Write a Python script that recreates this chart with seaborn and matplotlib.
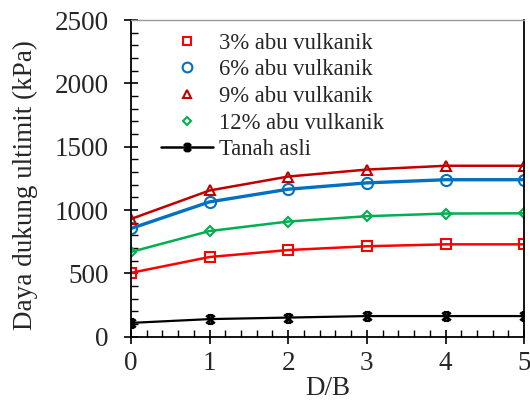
import matplotlib
matplotlib.use("Agg")
import matplotlib.pyplot as plt
import seaborn as sns
import pandas as pd
from matplotlib.lines import Line2D
from matplotlib.path import Path
from matplotlib.ticker import MultipleLocator

sns.set_style("ticks")
plt.rcParams['font.family'] = ['Liberation Serif', 'DejaVu Serif']

db = [0, 1, 2, 3, 4, 5]
s3 = [505, 630, 685, 715, 730, 730]
s6 = [855, 1065, 1165, 1215, 1240, 1240]
s9 = [930, 1155, 1265, 1320, 1350, 1350]
s12 = [670, 835, 910, 952, 973, 975]
asli = [110, 140, 152, 164, 164, 164]

names = ["3% abu vulkanik", "6% abu vulkanik", "9% abu vulkanik", "12% abu vulkanik", "Tanah asli"]
series = [s3, s6, s9, s12, asli]

# Excel-like star marker: X with short horizontal caps
star = Path([(-1, -1), (1, 1), (-1, 1), (1, -1), (-0.6, 1), (0.6, 1), (-0.6, -1), (0.6, -1)],
            [Path.MOVETO, Path.LINETO] * 4)

colors = ["#FF0000", "#0070C0", "#C00000", "#00B050", "#000000"]
markers = ["s", "o", "^", "D", star]
msizes = [7, 8, 7, 5, 6]
lws = [1.8, 2.4, 1.8, 1.8, 1.6]

rows = []
for n, vals in zip(names, series):
    for x, v in zip(db, vals):
        rows.append({"D/B": x, "q": v, "seri": n})
df = pd.DataFrame(rows)

fig = plt.figure(figsize=(5.30, 4.01), dpi=100)
ax = fig.add_axes([0.247, 0.16, 0.742, 0.79])

for n, c, m, ms, lw in zip(names, colors, markers, msizes, lws):
    sub = df[df["seri"] == n]
    sns.lineplot(data=sub, x="D/B", y="q", ax=ax, color=c, lw=lw, marker=m,
                 markersize=ms, markerfacecolor="none", markeredgecolor=c,
                 markeredgewidth=1.5 if n != "Tanah asli" else 2.0, legend=False)

ax.set_xlim(0, 5)
ax.set_ylim(0, 2500)
ax.xaxis.set_major_locator(MultipleLocator(1))
ax.xaxis.set_minor_locator(MultipleLocator(0.2))
ax.yaxis.set_major_locator(MultipleLocator(500))
ax.yaxis.set_minor_locator(MultipleLocator(100))
ax.tick_params(which="major", direction="inout", length=10, width=1.2, labelsize=19.5, color="black")
ax.tick_params(which="minor", direction="in", length=5, width=1.0, color="black")
ax.tick_params(axis="x", pad=5)
ax.tick_params(axis="y", pad=11)
ax.set_xlabel("D/B", fontsize=19.5, labelpad=0)
ax.set_ylabel("Daya dukung ultimit (kPa)", fontsize=19.5, labelpad=12)
ax.yaxis.label.set_y(0.48)

for sp in ["left", "bottom", "right"]:
    ax.spines[sp].set_color("black")
    ax.spines[sp].set_linewidth(1.3)
ax.spines["top"].set_color("#999999")
ax.spines["top"].set_linewidth(1.0)
ax.spines["top"].set_visible(True)
ax.spines["right"].set_visible(True)

handles = []
for i, (n, c, m, ms) in enumerate(zip(names, colors, markers, msizes)):
    ls = "-" if i == 4 else "none"
    handles.append(Line2D([0], [0], color=c, lw=1.8, ls=ls, marker=m, markersize=ms - 1,
                          markerfacecolor="none", markeredgecolor=c,
                          markeredgewidth=1.5 if i != 4 else 2.0))
leg = ax.legend(handles=handles, labels=names, loc="upper left", bbox_to_anchor=(0.037, 1.01),
                frameon=False, fontsize=16.3, handlelength=2.3, handletextpad=0.25,
                labelspacing=0.25, borderaxespad=0.3)

fig.savefig("out.png", dpi=100)
